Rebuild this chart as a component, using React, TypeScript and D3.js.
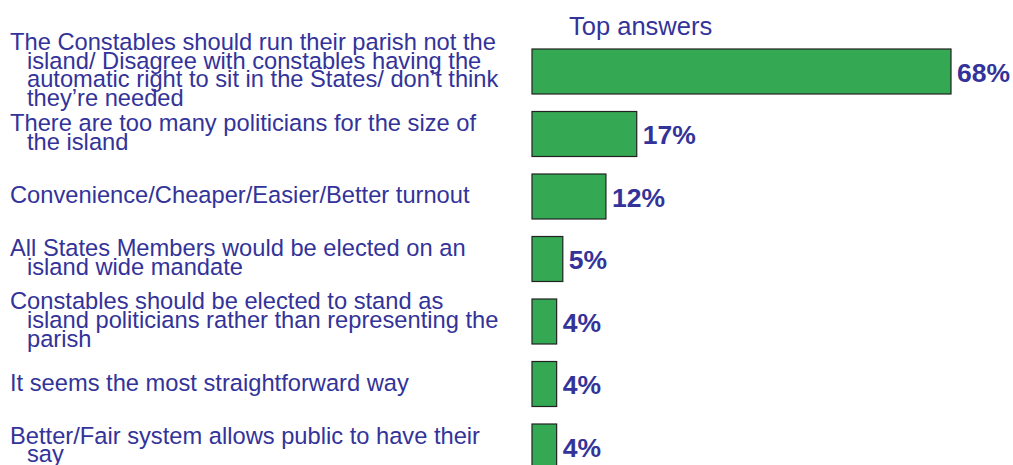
import React from "react";
import * as d3 from "d3";

const categories: string[][] = [
  ["The Constables should run their parish not the", "island/ Disagree with constables having the", "automatic right to sit in the States/ don’t think", "they’re needed"],
  ["There are too many politicians for the size of", "the island"],
  ["Convenience/Cheaper/Easier/Better turnout"],
  ["All States Members would be elected on an", "island wide mandate"],
  ["Constables should be elected to stand as", "island politicians rather than representing the", "parish"],
  ["It seems the most straightforward way"],
  ["Better/Fair system allows public to have their", "say"],
];
const values: number[] = [68, 17, 12, 5, 4, 4, 4];
const valueLabels: string[] = ["68%", "17%", "12%", "5%", "4%", "4%", "4%"];
const title = "Top answers";

const W = 1013;
const H = 465;
const TEXT = "#333399";
const GREEN = "#34a853";
const FONT = "Liberation Sans, Arial, sans-serif";

export default function App() {
  const ids = categories.map((_, i) => String(i));
  const y = d3.scaleBand<string>().domain(ids).range([31.5, 486.5]).padding(0.28);
  const x = d3.scaleLinear().domain([0, 68]).range([532, 951]);
  const lineH = 18.6;
  const capH = 17.0;

  return (
    <svg width={W} height={H} style={{ position: "absolute", left: 0, top: 0 }} fontFamily={FONT}>
      <rect width={W} height={H} fill="#ffffff" />
      <text x={569} y={35} fontSize={25.5} fill={TEXT}>{title}</text>
      {categories.map((lines, i) => {
        const id = ids[i];
        const y0 = y(id)!;
        const cy = y0 + y.bandwidth() / 2;
        const firstBase = cy - ((lines.length - 1) * lineH) / 2 + capH / 2 - 2;
        return (
          <g key={id}>
            <rect
              x={x(0)}
              y={y0}
              width={x(values[i]) - x(0)}
              height={y.bandwidth()}
              fill={GREEN}
              stroke="#222222"
              strokeWidth={1.2}
            />
            <text x={x(values[i]) + 6} y={cy + 10} fontSize={26.5} fontWeight="bold" fill={TEXT}>
              {valueLabels[i]}
            </text>
            <text fontSize={23.7} fill={TEXT}>
              {lines.map((ln, j) => (
                <tspan key={j} x={j === 0 ? 10 : 27} y={firstBase + j * lineH}>
                  {ln}
                </tspan>
              ))}
            </text>
          </g>
        );
      })}
    </svg>
  );
}
